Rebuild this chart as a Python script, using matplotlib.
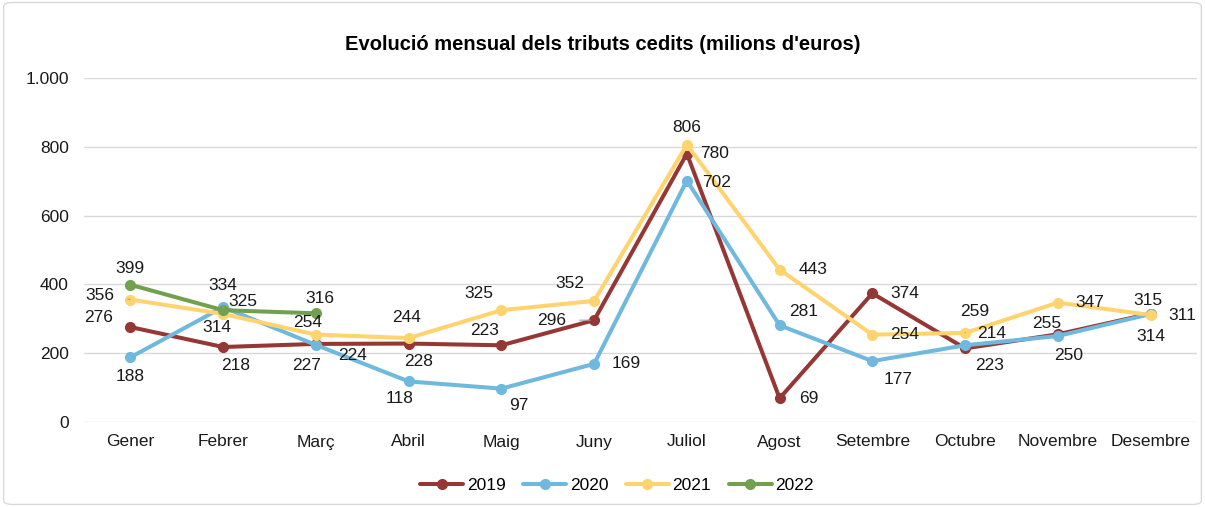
import matplotlib
matplotlib.use("Agg")
import matplotlib.pyplot as plt
from matplotlib.patches import FancyBboxPatch

plt.rcParams["font.family"] = ["Liberation Sans", "DejaVu Sans"]

months = ["Gener", "Febrer", "Març", "Abril", "Maig", "Juny", "Juliol",
          "Agost", "Setembre", "Octubre", "Novembre", "Desembre"]
v2019 = [276, 218, 227, 228, 223, 296, 780, 69, 374, 214, 255, 315]
v2020 = [188, 334, 224, 118, 97, 169, 702, 281, 177, 223, 250, 314]
v2021 = [356, 314, 254, 244, 325, 352, 806, 443, 254, 259, 347, 311]
v2022 = [399, 325, 316]
yticks = [0, 200, 400, 600, 800, 1000]
ytick_labels = ["0", "200", "400", "600", "800", "1.000"]

# label offsets in pixels (dx, dy; dy up positive)
offs = {
    "2019": [(-32, 10), (12, -18), (-9, -22), (10, -18), (-17, 15), (-43, 0),
             (28, 0), (29, 0), (32, 0), (27, 15), (-11, 11), (-3, 13)],
    "2020": [(0, -19), (0, 22), (37, -11), (-9, -17), (17, -17), (32, 0),
             (30, -2), (24, 14), (26, -18), (24, -20), (11, -20), (0, -23)],
    "2021": [(-31, 4), (-6, -14), (-8, 12), (-2, 21), (-23, 17), (-24, 17),
             (0, 17), (33, 0), (32, 0), (10, 21), (32, 0), (32, 0)],
    "2022": [(0, 16), (20, 9), (4, 15)],
}
leaders = {("2021", 0), ("2020", 1), ("2020", 2), ("2019", 5), ("2021", 9)}

series = [("2019", v2019, "#953735"), ("2020", v2020, "#6FB8DE"),
          ("2021", v2021, "#FFD36E"), ("2022", v2022, "#71A14F")]

fig = plt.figure(figsize=(12.05, 5.07), dpi=100)
fig.patches.append(FancyBboxPatch((0.003, 0.005), 0.994, 0.99,
                                  boxstyle="round,pad=0,rounding_size=0.008",
                                  transform=fig.transFigure, fill=False,
                                  edgecolor="#D9D9D9", lw=1))
ax = fig.add_axes([84 / 1205, 1 - 422 / 507, 1113 / 1205, 344 / 507])

x = list(range(len(months)))
for name, vals, col in series:
    xs = x[:len(vals)]
    ax.plot(xs, vals, color=col, lw=2.9, marker="o", ms=7, label=name,
            solid_capstyle="round", zorder=3)
    for i, v in enumerate(vals):
        dx, dy = offs[name][i]
        kw = {}
        if (name, i) in leaders:
            kw["arrowprops"] = dict(arrowstyle="-", color="#A6A6A6", lw=0.8,
                                    shrinkA=8, shrinkB=3)
        ax.annotate(str(v), (i, v), xytext=(dx, dy), textcoords="offset pixels",
                    ha="center", va="center", fontsize=12.5, color="#1a1a1a",
                    zorder=5, annotation_clip=False, **kw)

ax.set_xlim(-0.5, 11.5)
ax.set_ylim(0, 1000)
ax.set_yticks(yticks)
ax.set_yticklabels(ytick_labels)
ax.set_xticks(x)
ax.set_xticklabels(months)
ax.tick_params(length=0, labelsize=12.5, colors="#1a1a1a")
ax.tick_params(axis="x", pad=9)
ax.tick_params(axis="y", pad=11)
ax.grid(axis="y", color="#D9D9D9", lw=1)
ax.set_axisbelow(True)
for s in ax.spines.values():
    s.set_visible(False)

fig.text(0.5, 1 - 45 / 507, "Evolució mensual dels tributs cedits (milions d'euros)",
         ha="center", va="center", fontsize=14.5, fontweight="bold")

fig.legend(loc="center", bbox_to_anchor=(0.512, 1 - 485 / 507), ncol=4,
           frameon=False, fontsize=12.5, handlelength=2.5, handletextpad=0.2,
           columnspacing=1.0)

fig.savefig("out.png", dpi=100)
